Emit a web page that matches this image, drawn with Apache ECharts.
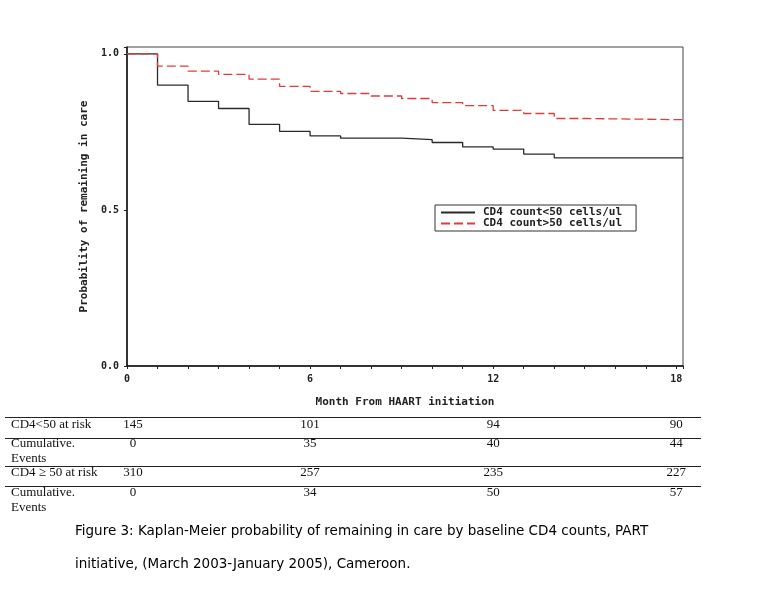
<!DOCTYPE html>
<html>
<head>
<meta charset="utf-8">
<script src="https://cdn.jsdelivr.net/npm/echarts@6/dist/echarts.min.js"></script>
<style>
html,body{margin:0;padding:0;background:#fff;}
#chart{width:757px;height:590px;}
</style>
</head>
<body>
<div id="chart"></div>
<script>
// Kaplan-Meier step data: [month, survival probability]
const lowCD4Months = [0, 1, 2, 3, 4, 5, 6, 7, 9, 10, 11, 12, 13, 14, 18.22];
const lowCD4Surv   = [1.0, 0.900, 0.848, 0.825, 0.774, 0.752, 0.737, 0.730, 0.725, 0.716, 0.702, 0.695, 0.679, 0.667, 0.667];
const highCD4Months = [0, 1, 2, 3, 4, 5, 6, 7, 8, 9, 10, 11, 12, 13, 14, 15, 18.22];
const highCD4Surv   = [1.0, 0.961, 0.945, 0.934, 0.919, 0.896, 0.880, 0.873, 0.865, 0.857, 0.844, 0.834, 0.819, 0.809, 0.793, 0.789, 0.789];

const seriesNames = ['CD4 count<50 cells/ul', 'CD4 count>50 cells/ul'];
const xTickLabels = ['0', '6', '12', '18'];
const yTickLabels = ['0.0', '0.5', '1.0'];

// Risk table
const tableMonths = [0, 6, 12, 18];
const rowLabels = ['CD4<50 at risk', 'Cumulative.\nEvents', 'CD4 \u2265 50 at risk', 'Cumulative.\nEvents'];
const atRiskLow = [145, 101, 94, 90];
const eventsLow = [0, 35, 40, 44];
const atRiskHigh = [310, 257, 235, 227];
const eventsHigh = [0, 34, 50, 57];
const tableRows = [atRiskLow, eventsLow, atRiskHigh, eventsHigh];

const captionLines = [
  'Figure 3: Kaplan-Meier probability of remaining in care by baseline CD4 counts, PART',
  'initiative, (March 2003-January 2005), Cameroon.'
];

const zip = (a, b) => a.map((v, i) => [v, b[i]]);

const chart = echarts.init(document.getElementById('chart'), null, {renderer: 'canvas'});
const mono = 'DejaVu Sans Mono';
const axisFont = {fontFamily: mono, fontSize: 10, fontWeight: 'bold', color: '#222'};

const option = {
  animation: false,
  backgroundColor: '#fff',
  grid: {left: 127, top: 47, width: 556, height: 319, show: true, borderColor: '#444', borderWidth: 1, backgroundColor: 'transparent'},
  xAxis: {
    type: 'value', min: 0, max: 18.22, interval: 6,
    name: 'Month From HAART initiation', nameLocation: 'middle', nameGap: 31,
    nameTextStyle: {fontFamily: mono, fontSize: 11, fontWeight: 'bold', color: '#222'},
    axisLine: {show: true, lineStyle: {color: '#111', width: 1.5}},
    axisTick: {show: true, length: 3, lineStyle: {color: '#222'}},
    minorTick: {show: true, splitNumber: 6, length: 3, lineStyle: {color: '#222'}},
    splitLine: {show: false},
    axisLabel: Object.assign({}, axisFont, {margin: 8, formatter: v => {
      const i = tableMonths.indexOf(v); return i >= 0 ? xTickLabels[i] : '';
    }})
  },
  yAxis: {
    type: 'value', min: 0, max: 1.022, interval: 0.5,
    name: 'Probability of remaining in care', nameLocation: 'middle', nameGap: 37,
    nameTextStyle: {fontFamily: mono, fontSize: 11, fontWeight: 'bold', color: '#222'},
    axisLine: {show: true, lineStyle: {color: '#111', width: 1.5}},
    axisTick: {show: true, length: 3, lineStyle: {color: '#222'}},
    splitLine: {show: false},
    axisLabel: Object.assign({}, axisFont, {margin: 8, formatter: v => {
      const idx = Math.round(v * 2); return Math.abs(v * 2 - idx) < 1e-6 && idx <= 2 ? yTickLabels[idx] : '';
    }})
  },
  legend: {
    left: 435, top: 205, orient: 'vertical', itemGap: 0,
    itemWidth: 34, itemHeight: 9,
    padding: [2, 14, 2, 5],
    borderColor: '#333', borderWidth: 1, backgroundColor: '#fff',
    itemStyle: {opacity: 0},
    textStyle: {fontFamily: mono, fontSize: 11, fontWeight: 'bold', color: '#222', padding: [0, 0, 0, 3]},
    data: seriesNames
  },
  series: [
    {name: seriesNames[0], type: 'line', step: 'end', symbol: 'none',
     lineStyle: {color: '#2a2a2a', width: 1.3}, itemStyle: {color: '#2a2a2a'},
     data: zip(lowCD4Months, lowCD4Surv)},
    {name: seriesNames[1], type: 'line', step: 'end', symbol: 'none',
     lineStyle: {color: '#e23b3b', width: 1.3, type: [9, 4]}, itemStyle: {color: '#e23b3b'},
     data: zip(highCD4Months, highCD4Surv)}
  ]
};
chart.setOption(option);

// Build risk table beneath, columns aligned with x-axis months
const colX = tableMonths.map((m, i) => chart.convertToPixel({xAxisIndex: 0}, m) + (i === 0 ? 6 : 0));
const lineYs = [417.5, 438.5, 466.5, 486.5];
const rowTextY = [425, 444, 473, 493];
const serif = {fontFamily: 'Liberation Serif', fontSize: 13, fill: '#111'};
const g = [];
lineYs.forEach(y => g.push({type: 'line', shape: {x1: 5, y1: y, x2: 701, y2: y}, style: {stroke: '#222', lineWidth: 1.2}}));
rowLabels.forEach((lab, r) => {
  g.push({type: 'text', x: 11, y: rowTextY[r] - 8, style: Object.assign({}, serif, {text: lab, lineHeight: 15, verticalAlign: 'top'})});
  tableRows[r].forEach((v, c) => {
    g.push({type: 'text', x: colX[c], y: rowTextY[r], style: Object.assign({}, serif, {text: String(v), align: 'center', verticalAlign: 'middle'})});
  });
});
captionLines.forEach((t, i) => {
  g.push({type: 'text', x: 75, y: [531, 564][i], style: {text: t, fontFamily: 'DejaVu Sans', fontSize: 13.5, fill: '#000', verticalAlign: 'middle'}});
});
chart.setOption({graphic: {elements: g}});
</script>
</body>
</html>
